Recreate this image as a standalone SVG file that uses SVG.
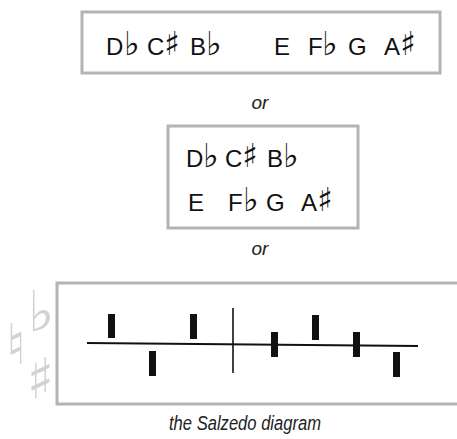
<svg xmlns="http://www.w3.org/2000/svg" width="457" height="439" viewBox="0 0 457 439">
<style>
.box{fill:#fff;stroke:#b4b4b4;stroke-width:3}
.n{font-family:"Liberation Sans","DejaVu Sans",sans-serif;font-size:24px;fill:#111}
.acc{font-family:"DejaVu Sans",sans-serif;font-size:33px}
.or{font-family:"Liberation Sans",sans-serif;font-style:italic;font-size:19px;fill:#222}
.cap{font-family:"Liberation Sans",sans-serif;font-style:italic;font-size:20px;fill:#222}
.ghost{font-family:"DejaVu Sans",sans-serif;fill:#d2d2d2}
.bar{fill:#111}
</style>
<rect width="457" height="439" fill="#fff"/>
<g id="box1">
<rect class="box" x="82" y="12" width="358" height="61"/>
<text class="n" x="106" y="55">D<tspan class="acc" x="124">♭</tspan></text>
<text class="n" x="147" y="55">C<tspan class="acc" x="164">♯</tspan></text>
<text class="n" x="190" y="55">B<tspan class="acc" x="206">♭</tspan></text>
<text class="n" x="274" y="55">E</text>
<text class="n" x="308" y="55">F<tspan class="acc" x="322">♭</tspan></text>
<text class="n" x="348" y="55">G</text>
<text class="n" x="384" y="55">A<tspan class="acc" x="400">♯</tspan></text>
</g>
<text id="or1" class="or" x="260" y="109" text-anchor="middle">or</text>
<g id="box2">
<rect class="box" x="168" y="126" width="190" height="102"/>
<text class="n" x="186" y="167">D<tspan class="acc" x="203">♭</tspan></text>
<text class="n" x="225" y="167">C<tspan class="acc" x="242">♯</tspan></text>
<text class="n" x="267" y="167">B<tspan class="acc" x="283">♭</tspan></text>
<text class="n" x="188" y="211">E</text>
<text class="n" x="228" y="211">F<tspan class="acc" x="243">♭</tspan></text>
<text class="n" x="266" y="211">G</text>
<text class="n" x="301" y="211">A<tspan class="acc" x="317">♯</tspan></text>
</g>
<text id="or2" class="or" x="260" y="255" text-anchor="middle">or</text>
<g id="box3">
<rect class="box" x="57" y="283" width="402" height="121"/>
<text class="ghost" x="6" y="364" font-size="56">♮</text>
<text class="ghost" x="28" y="331" font-size="56">♭</text>
<text class="ghost" x="27" y="398" font-size="56">♯</text>
<line x1="87" y1="343" x2="418" y2="346" stroke="#111" stroke-width="2"/>
<line x1="233" y1="308" x2="233" y2="373" stroke="#111" stroke-width="1.6"/>
<rect class="bar" x="108" y="314" width="7" height="24"/>
<rect class="bar" x="149" y="351" width="7" height="25"/>
<rect class="bar" x="190" y="314" width="7" height="25"/>
<rect class="bar" x="271" y="332" width="7" height="25"/>
<rect class="bar" x="312" y="315" width="7" height="25"/>
<rect class="bar" x="353" y="332" width="7" height="25"/>
<rect class="bar" x="393" y="352" width="7" height="25"/>
</g>
<text id="caption" class="cap" x="169" y="430" textLength="152" lengthAdjust="spacingAndGlyphs">the Salzedo diagram</text>
<g id="connectors"/>
</svg>
